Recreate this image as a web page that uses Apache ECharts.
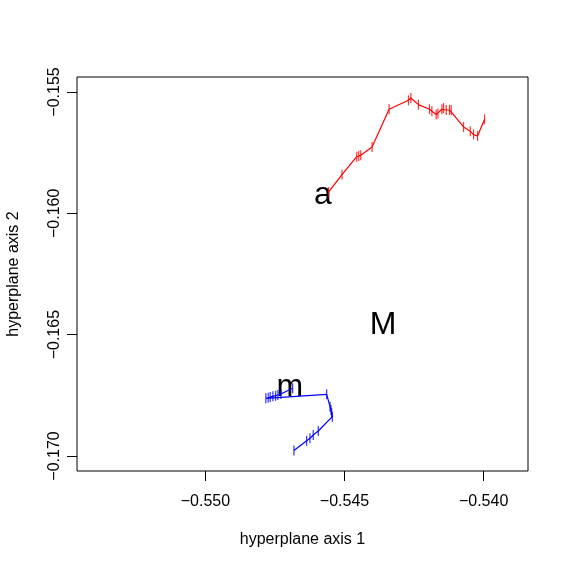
<!DOCTYPE html>
<html>
<head>
<meta charset="utf-8">
<script src="https://cdn.jsdelivr.net/npm/echarts@6/dist/echarts.min.js"></script>
<style>html,body{margin:0;padding:0;background:#fff;}#c{width:568px;height:568px;}</style>
</head>
<body>
<div id="c"></div>
<script>
// Red trajectory
const redX = [-0.545576,-0.545090,-0.544561,-0.544488,-0.544416,-0.544009,-0.543397,-0.542702,-0.542615,-0.542342,-0.541945,-0.541859,-0.541704,-0.541643,-0.541499,-0.541441,-0.541344,-0.541225,-0.541164,-0.540720,-0.540479,-0.540360,-0.540216,-0.539964];
const redY = [-0.159129,-0.158401,-0.157668,-0.157635,-0.157606,-0.157264,-0.155712,-0.155342,-0.155247,-0.155519,-0.155712,-0.155795,-0.155930,-0.155889,-0.155712,-0.155659,-0.155741,-0.155741,-0.155753,-0.156441,-0.156618,-0.156754,-0.156811,-0.156124];
// Blue trajectory
const blueX = [-0.546819,-0.546362,-0.546243,-0.546124,-0.545944,-0.545439,-0.545461,-0.545486,-0.545522,-0.545641,-0.547828,-0.547745,-0.547673,-0.547576,-0.547478,-0.547396,-0.547287,-0.546866];
const blueY = [-0.169771,-0.169368,-0.169269,-0.169133,-0.168969,-0.168380,-0.168240,-0.168104,-0.167968,-0.167458,-0.167622,-0.167598,-0.167569,-0.167540,-0.167515,-0.167487,-0.167446,-0.167211];
// Text labels
const labelTexts = ['a','M','m'];
const labelX = [-0.545774,-0.543613,-0.546963];
const labelY = [-0.159253,-0.164600,-0.167180];
// Ticks
const xTicks = [-0.550,-0.545,-0.540];
const yTicks = [-0.170,-0.165,-0.160,-0.155];
const xRange = [-0.554619,-0.538403];
const yRange = [-0.170618,-0.154382];

const fmt = v => (v < 0 ? '\u2212' : '') + Math.abs(v).toFixed(3);
const font = 'Liberation Sans, Arial, sans-serif';

function pairs(xs, ys){ return xs.map((x,i)=>[x, ys[i]]); }

const chart = echarts.init(document.getElementById('c'), null, {renderer:'canvas'});
chart.setOption({
  animation: false,
  backgroundColor: '#fff',
  grid: {left: 77, right: 40, top: 77, bottom: 97, containLabel: false, outerBoundsMode: 'none', show: true, borderColor: '#000', borderWidth: 1, backgroundColor: 'transparent'},
  xAxis: {
    type: 'value', min: xRange[0], max: xRange[1],
    name: 'hyperplane axis 1', nameLocation: 'middle', nameGap: 61,
    nameTextStyle: {fontFamily: font, fontSize: 16, color: '#000'},
    axisLine: {show: false},
    splitLine: {show: false},
    axisTick: {show: true, inside: false, length: 10, customValues: xTicks, lineStyle: {color: '#000', width: 1}},
    axisLabel: {customValues: xTicks, formatter: fmt, fontFamily: font, fontSize: 16, color: '#000', margin: 23}
  },
  yAxis: {
    type: 'value', min: yRange[0], max: yRange[1],
    name: 'hyperplane axis 2', nameLocation: 'middle', nameGap: 55, nameRotate: 90,
    nameTextStyle: {fontFamily: font, fontSize: 16, color: '#000'},
    axisLine: {show: false},
    splitLine: {show: false},
    axisTick: {show: true, inside: false, length: 10, customValues: yTicks, lineStyle: {color: '#000', width: 1}},
    axisLabel: {customValues: yTicks, formatter: fmt, fontFamily: font, fontSize: 16, color: '#000', margin: 14, rotate: 90}
  },
  series: [
    {
      type: 'line', data: pairs(redX, redY),
      lineStyle: {color: '#ff0000', width: 1.2},
      symbol: 'rect', symbolSize: [1.2, 10], showSymbol: true,
      itemStyle: {color: 'rgba(255,0,0,0.8)'},
      silent: true
    },
    {
      type: 'line', data: pairs(blueX, blueY),
      lineStyle: {color: '#0000ff', width: 1.2},
      symbol: 'rect', symbolSize: [1.2, 10], showSymbol: true,
      itemStyle: {color: 'rgba(0,0,255,0.8)'},
      silent: true
    },
    {
      type: 'scatter', symbolSize: 0,
      data: labelTexts.map((t,i)=>({name: t, value: [labelX[i], labelY[i]]})),
      label: {show: true, position: [0, 0], align: 'center', verticalAlign: 'middle', formatter: p => p.name, fontFamily: font, fontSize: 32, color: '#000000', textBorderWidth: 0, opacity: 1},
      itemStyle: {opacity: 1},
      silent: true
    }
  ]
});
</script>
</body>
</html>
